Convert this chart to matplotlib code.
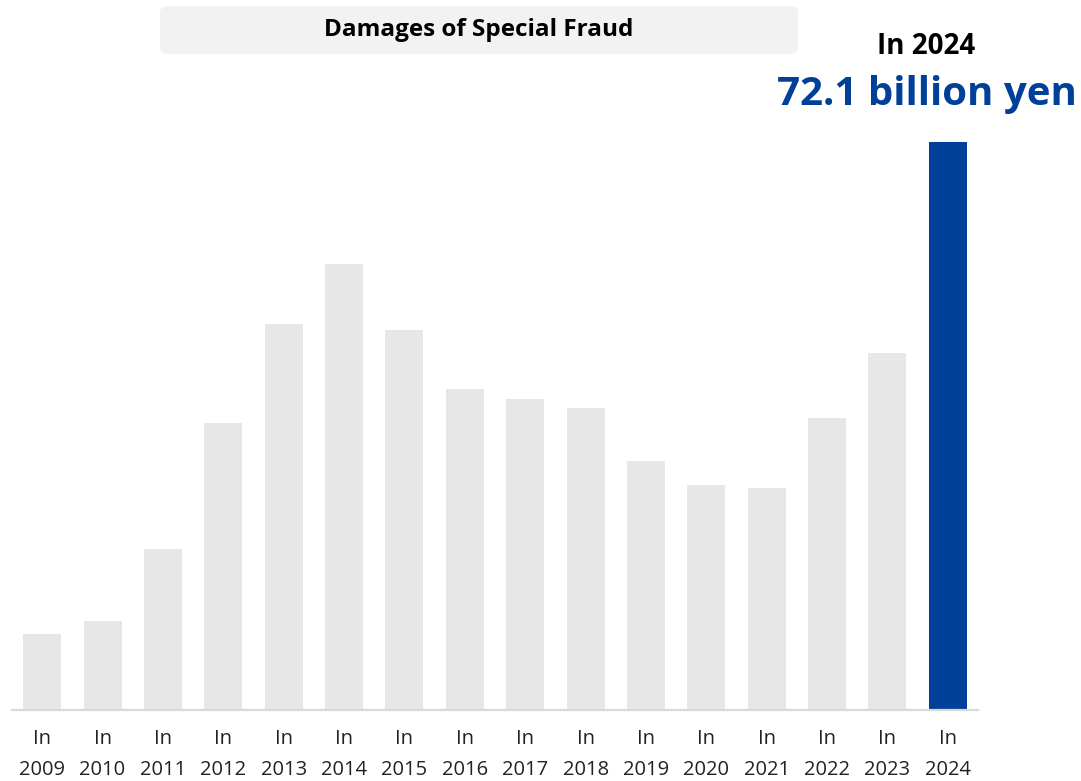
import matplotlib.pyplot as plt
from matplotlib.patches import FancyBboxPatch

# Damages of special fraud (billion yen)
years = list(range(2009, 2025))
damages = [9.6, 11.3, 20.4, 36.4, 49.0, 56.6, 48.2, 40.7, 39.5, 38.3,
           31.6, 28.6, 28.2, 37.1, 45.3, 72.1]
tick_labels = [f"In\n{y}" for y in years]

GRAY = "#E7E7E7"
BLUE = "#004098"
colors = [GRAY] * (len(years) - 1) + [BLUE]

W, H = 1081, 781
fig = plt.figure(figsize=(W / 100, H / 100), dpi=100)
ax = fig.add_axes([12 / W, 1 - 710 / H, (978 - 12) / W, (710 - 142) / H])

x = range(len(years))
ax.bar(x, damages, width=0.63, color=colors)
ax.set_xlim(-0.5, len(years) - 0.5)
ax.set_ylim(0, max(damages))

for s in ["top", "right", "left"]:
    ax.spines[s].set_visible(False)
ax.spines["bottom"].set_color("#D9D9D9")
ax.spines["bottom"].set_linewidth(1.6)
ax.set_yticks([])
ax.set_xticks(list(x))
ax.set_xticklabels(tick_labels, fontsize=14.5, family="Open Sans",
                   color="#222222", linespacing=1.7)
ax.tick_params(axis="x", length=0, pad=14)

# title box
box = FancyBboxPatch((160 / W, 1 - 54 / H), (798 - 160) / W, 48 / H,
                     boxstyle="round,pad=0,rounding_size=0.008",
                     transform=fig.transFigure, facecolor="#F2F2F2", edgecolor="none")
fig.patches.append(box)
fig.text(479 / W, 1 - 30 / H, "Damages of Special Fraud", ha="center", va="center",
         fontsize=17.5, fontweight="bold", family="Open Sans")

fig.text(926 / W, 1 - 46 / H, "In 2024", ha="center", va="center",
         fontsize=20, fontweight="bold", family="Open Sans")
fig.text(927 / W, 1 - 95 / H, f"{damages[-1]} billion yen", ha="center", va="center",
         fontsize=29, fontweight="bold", family="Open Sans", color=BLUE)

fig.savefig("out.png", dpi=100)
